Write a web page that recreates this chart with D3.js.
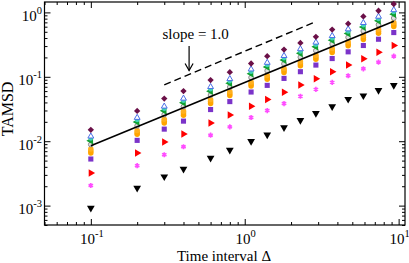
<!DOCTYPE html>
<html>
<head>
<meta charset="utf-8">
<script src="https://cdn.jsdelivr.net/npm/d3@7"></script>
<style>
  body { margin: 0; background: #fff; }
  text { font-family: "Liberation Serif", "Times New Roman", serif; }
</style>
</head>
<body>
<svg width="409" height="263"></svg>
<script>
// time interval values (x positions of every column)
const lagTimes = [0.1, 0.2, 0.3, 0.4, 0.6, 0.8, 1.1, 1.4, 1.8, 2.3, 2.9, 3.7, 4.7, 5.9, 7.4, 9.3];

// TAMSD values, top series first
const maroonDiamond = [0.0150, 0.0295, 0.0459, 0.0601, 0.0889, 0.118, 0.161, 0.209, 0.265, 0.336, 0.417, 0.541, 0.669, 0.867, 1.06, 1.35];
const blueTriangle  = [0.0119, 0.0232, 0.0347, 0.0461, 0.0698, 0.0927, 0.131, 0.166, 0.212, 0.270, 0.342, 0.432, 0.549, 0.689, 0.862, 1.09];
const tealCircle    = [0.0110, 0.0213, 0.0319, 0.0424, 0.0642, 0.0853, 0.120, 0.152, 0.195, 0.248, 0.315, 0.397, 0.505, 0.633, 0.793, 1.01];
const greenTriangle = [0.0102, 0.0199, 0.0297, 0.0396, 0.0598, 0.0795, 0.112, 0.142, 0.182, 0.232, 0.293, 0.371, 0.471, 0.591, 0.739, 0.938];
const grayCircle    = [0.00889, 0.0173, 0.0259, 0.0344, 0.0521, 0.0692, 0.0974, 0.124, 0.159, 0.202, 0.255, 0.323, 0.410, 0.514, 0.643, 0.816];
const orangeA       = [0.00756, 0.0147, 0.0220, 0.0293, 0.0443, 0.0589, 0.0829, 0.105, 0.135, 0.172, 0.217, 0.275, 0.349, 0.438, 0.548, 0.695];
const orangeB       = [0.00704, 0.0137, 0.0205, 0.0273, 0.0412, 0.0548, 0.0771, 0.0979, 0.126, 0.160, 0.202, 0.255, 0.325, 0.407, 0.509, 0.646];
const orangeC       = [0.00656, 0.0128, 0.0191, 0.0254, 0.0384, 0.0511, 0.0719, 0.0913, 0.117, 0.149, 0.188, 0.238, 0.303, 0.379, 0.475, 0.603];
const purpleSquare  = [0.00529, 0.0103, 0.0154, 0.0205, 0.0310, 0.0412, 0.0580, 0.0736, 0.0944, 0.120, 0.152, 0.192, 0.244, 0.306, 0.383, 0.486];
const redTriangle   = [0.00321, 0.00655, 0.00970, 0.0129, 0.0192, 0.0256, 0.0349, 0.0443, 0.0574, 0.0744, 0.0935, 0.120, 0.152, 0.190, 0.241, 0.306];
const magentaStar   = [0.00205, 0.00417, 0.00617, 0.00820, 0.0124, 0.0167, 0.0233, 0.0299, 0.0384, 0.0498, 0.0638, 0.0819, 0.104, 0.133, 0.169, 0.209];
const blackTriangle = [0.00092, 0.00188, 0.00282, 0.00370, 0.00550, 0.00730, 0.0100, 0.0126, 0.0163, 0.0212, 0.0272, 0.0345, 0.0450, 0.0510, 0.0620, 0.0740];

// fitted line and the slope-1 guide
const fitLine = [[0.1, 0.0085], [9.3, 0.73]];
const guideLine = [[0.3, 0.075], [2.9, 0.72]];

// tick labels (powers of ten)
const xTickExp = [-1, 0, 1];
const yTickExp = [-3, -2, -1, 0];

let svg = d3.select('svg');
let width = +svg.attr('width');
let height = +svg.attr('height');

// plot frame
let plotLeft = 44.5, plotRight = 405, plotTop = 2, plotBottom = 225;

let xScale = d3.scaleLog().domain([0.05, 11]).range([plotLeft, plotRight]);
let yScale = d3.scaleLog().domain([5e-4, 1.45]).range([plotBottom, plotTop]);

svg.append('rect').attr('width', width).attr('height', height).attr('fill', '#fff');

/********************** TICKS ON ALL FOUR SIDES (inward) **********************/
let isMajor = v => Math.abs(Math.log10(v) - Math.round(Math.log10(v))) < 1e-6;

let xTicks = xScale.ticks();
let yTicks = yScale.ticks();

svg.append('g').attr('transform', `translate(0,${plotBottom})`)
  .call(d3.axisBottom(xScale).tickValues(xTicks).tickSize(0).tickFormat(''))
  .call(g => g.select('.domain').remove())
  .call(g => g.selectAll('.tick line').attr('y2', d => isMajor(d) ? -6 : -3).attr('stroke', '#000'));
svg.append('g').attr('transform', `translate(0,${plotTop})`)
  .call(d3.axisTop(xScale).tickValues(xTicks).tickSize(0).tickFormat(''))
  .call(g => g.select('.domain').remove())
  .call(g => g.selectAll('.tick line').attr('y2', d => isMajor(d) ? 6 : 3).attr('stroke', '#000'));
svg.append('g').attr('transform', `translate(${plotLeft},0)`)
  .call(d3.axisLeft(yScale).tickValues(yTicks).tickSize(0).tickFormat(''))
  .call(g => g.select('.domain').remove())
  .call(g => g.selectAll('.tick line').attr('x2', d => isMajor(d) ? 6 : 3).attr('stroke', '#000'));
svg.append('g').attr('transform', `translate(${plotRight},0)`)
  .call(d3.axisRight(yScale).tickValues(yTicks).tickSize(0).tickFormat(''))
  .call(g => g.select('.domain').remove())
  .call(g => g.selectAll('.tick line').attr('x2', d => isMajor(d) ? -6 : -3).attr('stroke', '#000'));

// frame
svg.append('rect')
  .attr('x', plotLeft).attr('y', plotTop)
  .attr('width', plotRight - plotLeft).attr('height', plotBottom - plotTop)
  .attr('fill', 'none').attr('stroke', '#000').attr('stroke-width', 1.2);

// power-of-ten labels
let powLabel = (sel, e) => {
  sel.append('tspan').attr('font-size', 15).text('10');
  sel.append('tspan').attr('font-size', 10.5).attr('dy', -7).text(e);
};
svg.selectAll('.xlab').data(xTickExp).enter().append('text')
  .attr('x', d => xScale(Math.pow(10, d)) + 1)
  .attr('y', 243.5)
  .attr('text-anchor', 'middle')
  .each(function (d) { powLabel(d3.select(this), d); });
svg.selectAll('.ylab').data(yTickExp).enter().append('text')
  .attr('x', 42)
  .attr('y', d => yScale(Math.pow(10, d)) + 8.5)
  .attr('text-anchor', 'end')
  .each(function (d) { powLabel(d3.select(this), d); });

// axis titles
svg.append('text').attr('x', 224).attr('y', 260.5).attr('text-anchor', 'middle')
  .attr('font-size', 15).text('Time interval Δ');
svg.append('text').attr('transform', 'translate(13,109) rotate(-90)')
  .attr('text-anchor', 'middle').attr('font-size', 16).text('TAMSD');

/************************** SERIES ************************** */
let series = [
  { vals: blackTriangle, shape: d3.symbolTriangle, rot: 180, size: 26, fill: '#000', stroke: 'none' },
  { vals: magentaStar, shape: d3.symbolAsterisk || d3.symbolCross, rot: 0, size: 18, fill: '#ff4dff', stroke: '#ff4dff', sw: 1.6 },
  { vals: redTriangle, shape: d3.symbolTriangle, rot: 90, size: 24, fill: '#ff0000', stroke: 'none' },
  { vals: purpleSquare, shape: d3.symbolSquare, rot: 0, size: 26, fill: '#7b33c9', stroke: 'none' },
  { vals: orangeC, shape: d3.symbolCircle, rot: 0, size: 24, fill: '#ffa500', stroke: 'none' },
  { vals: orangeB, shape: d3.symbolCircle, rot: 0, size: 24, fill: '#ffa500', stroke: 'none' },
  { vals: orangeA, shape: d3.symbolCircle, rot: 0, size: 24, fill: '#ffb020', stroke: 'none' },
  { vals: grayCircle, shape: d3.symbolCircle, rot: 0, size: 18, fill: '#e0e0e0', stroke: '#888', sw: 1 },
  { vals: greenTriangle, shape: d3.symbolTriangle, rot: -90, size: 26, fill: '#10a030', stroke: 'none' },
  { vals: tealCircle, shape: d3.symbolCircle, rot: 0, size: 16, fill: '#40d0b8', stroke: 'none' },
  { vals: blueTriangle, shape: d3.symbolTriangle, rot: 0, size: 15, fill: '#fff', stroke: '#4a70e8', sw: 1 },
  { vals: maroonDiamond, shape: d3.symbolSquare, rot: 45, size: 20, fill: '#6b1048', stroke: 'none' }
];

series.forEach(s => {
  svg.append('g').selectAll('path')
    .data(s.vals.map((v, i) => [lagTimes[i], v]))
    .enter()
    .append('path')
      .attr('d', d3.symbol().type(s.shape).size(s.size))
      .attr('transform', d => `translate(${xScale(d[0])},${yScale(d[1])}) rotate(${s.rot})`)
      .attr('fill', s.fill)
      .attr('stroke', s.stroke)
      .attr('stroke-width', s.sw || 0);
});

// fit line on top
let line = d3.line().x(d => xScale(d[0])).y(d => yScale(d[1]));
svg.append('path').datum(fitLine).attr('d', line)
  .attr('fill', 'none').attr('stroke', '#000').attr('stroke-width', 1.6);
svg.append('path').datum(guideLine).attr('d', line)
  .attr('fill', 'none').attr('stroke', '#000').attr('stroke-width', 1.4)
  .attr('stroke-dasharray', '7,4');

// annotation
svg.append('text').attr('x', xScale(0.48)).attr('y', yScale(0.39))
  .attr('text-anchor', 'middle').attr('font-size', 15).text('slope = 1.0');
let ax = xScale(0.435);
svg.append('line').attr('x1', ax).attr('x2', ax)
  .attr('y1', yScale(0.30)).attr('y2', yScale(0.125))
  .attr('stroke', '#000').attr('stroke-width', 1.2);
svg.append('path')
  .attr('d', `M${ax - 4},${yScale(0.125) - 7}L${ax},${yScale(0.125)}L${ax + 4},${yScale(0.125) - 7}`)
  .attr('fill', 'none').attr('stroke', '#000').attr('stroke-width', 1.2);
</script>
</body>
</html>
